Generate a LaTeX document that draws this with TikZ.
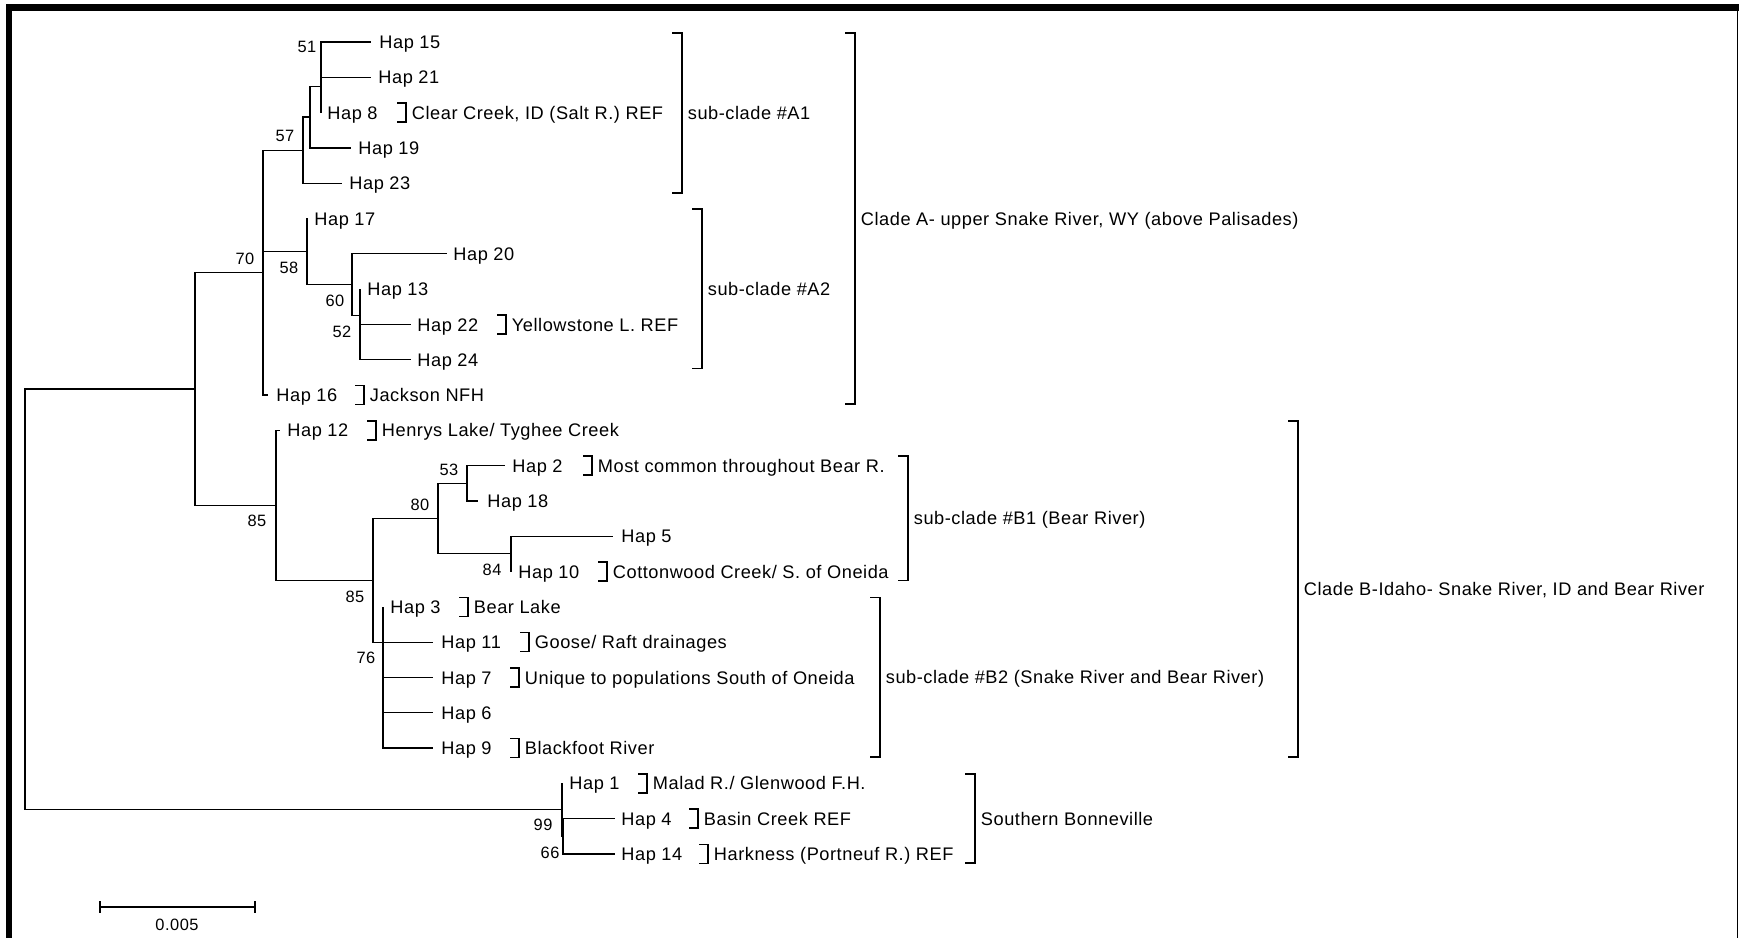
\documentclass[tikz,border=0pt]{standalone}
\usepackage{fontspec}
\setmainfont[LetterSpace=3]{Liberation Sans}
\newcommand\leafnode[5]{%
  \coordinate (t#1) at (#2,#3);
  \node[hap] (h#1) at (#4,#3) {#5};}
\newcommand\annot[4]{% name, bracket x, row, text
  \draw[annbr] ({#2-9},{#3-9.5}) -- (#2,{#3-9.5}) -- (#2,{#3+9.5}) -- ({#2-9},{#3+9.5});
  \node[hap] (a#1) at ({#2+5.5},#3) {#4};}
\newcommand\cladebr[5]{% name, x, top, bottom, text
  \draw[cladeline] ({#2-10},#3) -- (#2,#3) -- (#2,#4) -- ({#2-10},#4);
  \node[hap] (c#1) at ({#2+5.5},{(#3+#4)/2}) {#5};}
\tikzset{
  hap/.style={anchor=base west, inner sep=0pt, yshift=-3.3pt, font=\fontsize{9.1}{11}\selectfont},
  boot/.style={anchor=center, inner sep=0pt, font=\fontsize{8.2}{10}\selectfont},
  branch/.style={line width=0.6pt},
  annbr/.style={line width=0.75pt},
  cladeline/.style={line width=0.85pt},
}
\begin{document}
\begin{tikzpicture}[x=0.5pt,y=-0.5pt]
\useasboundingbox (0,0) rectangle (1739,938);
% frame
\fill[black] (6,4) rectangle (1739,10.5);
\fill[black] (6,4) rectangle (12,938);
\fill[black] (1736.6,4) rectangle (1738.4,938);

% internal nodes
\coordinate (n1521) at (321,59.65);
\coordinate (n51) at (321,86.1);
\coordinate (n1) at (310,117);
\coordinate (n57) at (303,150.1);
\coordinate (n52) at (360,342.05);
\coordinate (n60) at (360,315.6);
\coordinate (n2) at (352,284.7);
\coordinate (n58) at (307,251.6);
\coordinate (n70) at (263,272.55);
\coordinate (n53) at (467,483.25);
\coordinate (n84) at (511,553.85);
\coordinate (n80) at (438,518.55);
\coordinate (n769) at (383,712.7);
\coordinate (n7611) at (383,677.4);
\coordinate (n76) at (383,642.1);
\coordinate (n85b) at (373,580.3);
\coordinate (n85a) at (276,505.3);
\coordinate (nAB) at (195,388.9);
\coordinate (n66) at (563,836.25);
\coordinate (n99) at (562,809.8);
\coordinate (root) at (25,599.35);

% leaves
\leafnode{15}{371}{42}{379}{Hap 15}
\leafnode{21}{371}{77.3}{378}{Hap 21}
\leafnode{8}{321}{112.6}{327}{Hap 8}
\leafnode{19}{351}{147.9}{358}{Hap 19}
\leafnode{23}{342}{183.2}{349}{Hap 23}
\leafnode{17}{308}{218.5}{314}{Hap 17}
\leafnode{20}{447}{253.8}{453}{Hap 20}
\leafnode{13}{360}{289.1}{367}{Hap 13}
\leafnode{22}{411}{324.4}{417}{Hap 22}
\leafnode{24}{411}{359.7}{417}{Hap 24}
\leafnode{16}{268}{395}{276}{Hap 16}
\leafnode{12}{280}{430.3}{287}{Hap 12}
\leafnode{2}{505}{465.6}{512}{Hap 2}
\leafnode{18}{478}{500.9}{487}{Hap 18}
\leafnode{5}{613}{536.2}{621}{Hap 5}
\leafnode{10}{511}{571.5}{518}{Hap 10}
\leafnode{3}{383}{606.8}{390}{Hap 3}
\leafnode{11}{433}{642.1}{441}{Hap 11}
\leafnode{7}{433}{677.4}{441}{Hap 7}
\leafnode{6}{433}{712.7}{441}{Hap 6}
\leafnode{9}{433}{748}{441}{Hap 9}
\leafnode{1}{562}{783.3}{569}{Hap 1}
\leafnode{4}{615}{818.6}{621}{Hap 4}
\leafnode{14}{615}{853.9}{621}{Hap 14}

% branches
\draw[branch] (root) |- (nAB);
\draw[branch] (root) |- (n99);
\draw[branch] (nAB) |- (n70);
\draw[branch] (nAB) |- (n85a);
\draw[branch] (n70) |- (n57);
\draw[branch] (n70) |- (n58);
\draw[branch] (n70) |- (t16);
\draw[branch] (n57) |- (n1);
\draw[branch] (n57) |- (t23);
\draw[branch] (n1) |- (n51);
\draw[branch] (n1) |- (t19);
\draw[branch] (n51) |- (n1521);
\draw[branch] (n51) |- (t8);
\draw[branch] (n1521) |- (t15);
\draw[branch] (n1521) |- (t21);
\draw[branch] (n58) |- (t17);
\draw[branch] (n58) |- (n2);
\draw[branch] (n2) |- (t20);
\draw[branch] (n2) |- (n60);
\draw[branch] (n60) |- (t13);
\draw[branch] (n60) |- (n52);
\draw[branch] (n52) |- (t22);
\draw[branch] (n52) |- (t24);
\draw[branch] (n85a) |- (t12);
\draw[branch] (n85a) |- (n85b);
\draw[branch] (n85b) |- (n80);
\draw[branch] (n85b) |- (n76);
\draw[branch] (n80) |- (n53);
\draw[branch] (n80) |- (n84);
\draw[branch] (n53) |- (t2);
\draw[branch] (n53) |- (t18);
\draw[branch] (n84) |- (t5);
\draw[branch] (n84) |- (t10);
\draw[branch] (n76) |- (t3);
\draw[branch] (n76) |- (n7611);
\draw[branch] (n7611) |- (t11);
\draw[branch] (n7611) |- (n769);
\draw[branch] (n769) |- (t7);
\draw[branch] (n769) |- (t6);
\draw[branch] (n769) |- (t9);
\draw[branch] (n99) |- (t1);
\draw[branch] (n99) |- (n66);
\draw[branch] (n66) |- (t4);
\draw[branch] (n66) |- (t14);

% bootstrap values
\node[boot] (b51) at (307,47) {51};
\node[boot] (b57) at (285,136) {57};
\node[boot] (b70) at (245,259) {70};
\node[boot] (b58) at (289,268) {58};
\node[boot] (b60) at (335,301) {60};
\node[boot] (b52) at (342,332) {52};
\node[boot] (b85a) at (257,521) {85};
\node[boot] (b85b) at (355,597) {85};
\node[boot] (b80) at (420,505) {80};
\node[boot] (b53) at (449,470) {53};
\node[boot] (b84) at (492,570) {84};
\node[boot] (b76) at (366,658) {76};
\node[boot] (b99) at (543,825) {99};
\node[boot] (b66) at (550,853) {66};

% annotations
\annot{8}{406}{112.6}{Clear Creek, ID (Salt R.) REF}
\annot{22}{506}{324.4}{Yellowstone L. REF}
\annot{16}{364}{395}{Jackson NFH}
\annot{12}{376}{430.3}{Henrys Lake/ Tyghee Creek}
\annot{2}{592}{465.6}{Most common throughout Bear R.}
\annot{10}{607}{571.5}{Cottonwood Creek/ S. of Oneida}
\annot{3}{468}{606.8}{Bear Lake}
\annot{11}{529}{642.1}{Goose/ Raft drainages}
\annot{7}{519}{677.4}{Unique to populations South of Oneida}
\annot{9}{519}{748}{Blackfoot River}
\annot{1}{647}{783.3}{Malad R./ Glenwood F.H.}
\annot{4}{698}{818.6}{Basin Creek REF}
\annot{14}{708}{853.9}{Harkness (Portneuf R.) REF}

% clade brackets
\cladebr{A1}{682}{33}{193}{sub-clade \#A1}
\cladebr{A2}{702}{209}{368.5}{sub-clade \#A2}
\cladebr{A}{855}{33}{404}{Clade A- upper Snake River, WY (above Palisades)}
\cladebr{B1}{908}{456}{580.5}{sub-clade \#B1 (Bear River)}
\cladebr{B2}{880}{597.5}{757}{sub-clade \#B2 (Snake River and Bear River)}
\cladebr{B}{1298}{421}{757}{Clade B-Idaho- Snake River, ID and Bear River}
\cladebr{SB}{975}{774}{863}{Southern Bonneville}

% scale bar
\coordinate (sbl) at (100,907);
\coordinate (sbr) at (255,907);
\draw[branch] (sbl) -- (sbr);
\draw[branch] ([yshift=3pt]sbl) -- ([yshift=-3pt]sbl);
\draw[branch] ([yshift=3pt]sbr) -- ([yshift=-3pt]sbr);
\node[boot] (sblab) at (177,925) {0.005};
\end{tikzpicture}
\end{document}
